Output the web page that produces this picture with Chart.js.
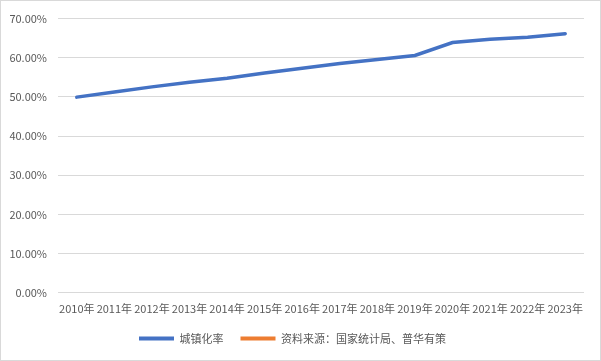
<!DOCTYPE html>
<html>
<head>
<meta charset="utf-8">
<script src="https://cdn.jsdelivr.net/npm/chart.js@4"></script>
<style>
  html, body { margin: 0; padding: 0; background: #fff; }
  #wrap { width: 599px; height: 359px; border: 1px solid #d9d9d9; }
</style>
</head>
<body>
<div id="wrap"><canvas id="chart"></canvas></div>
<script>
// Years on the x axis
const years = ["2010年", "2011年", "2012年", "2013年", "2014年", "2015年", "2016年",
  "2017年", "2018年", "2019年", "2020年", "2021年", "2022年", "2023年"];

// Urbanization rate (%)
const urbanRate = [49.95, 51.27, 52.57, 53.73, 54.77, 56.10, 57.35,
  58.52, 59.58, 60.60, 63.89, 64.72, 65.22, 66.16];

// Second legend entry has no data (source note)
const sourceNote = years.map(() => null);

const seriesNames = ["城镇化率", "资料来源：国家统计局、普华有策"];

const textColor = "#595959";
const fontFamily = "'Microsoft YaHei', 'Noto Sans CJK SC', sans-serif";

const ctx = document.getElementById("chart").getContext("2d");
new Chart(ctx, {
  type: "line",
  data: {
    labels: years,
    datasets: [
      {
        label: seriesNames[0],
        data: urbanRate,
        borderColor: "#4472C4",
        backgroundColor: "#4472C4",
        borderWidth: 3.5,
        pointRadius: 0,
        borderCapStyle: "round",
        tension: 0,
      },
      {
        label: seriesNames[1],
        data: sourceNote,
        borderColor: "#ED7D31",
        backgroundColor: "#ED7D31",
        borderWidth: 3,
        pointRadius: 0,
      },
    ],
  },
  options: {
    responsive: true,
    maintainAspectRatio: false,
    animation: false,
    layout: {
      padding: { left: 0, right: 16, top: 12, bottom: 6 },
    },
    plugins: {
      tooltip: { enabled: false },
      legend: {
        position: "bottom",
        labels: {
          color: textColor,
          font: { family: fontFamily, size: 11 },
          boxWidth: 35,
          boxHeight: 4,
          padding: 17,
          useBorderRadius: true,
          borderRadius: 2,
          generateLabels: (chart) =>
            chart.data.datasets.map((ds, i) => ({
              text: ds.label,
              fillStyle: ds.borderColor,
              strokeStyle: ds.borderColor,
              lineWidth: 0,
              fontColor: textColor,
              datasetIndex: i,
              hidden: false,
            })),
        },
      },
    },
    scales: {
      x: {
        offset: true,
        grid: { display: false },
        border: { display: false },
        ticks: {
          color: textColor,
          font: { family: fontFamily, size: 11 },
          maxRotation: 0,
          autoSkip: false,
          padding: 1,
        },
      },
      y: {
        min: 0,
        max: 70,
        afterFit: (scale) => {
          scale.width = 57;
        },
        grid: { color: "#d9d9d9", drawTicks: false },
        border: { display: false },
        ticks: {
          stepSize: 10,
          color: textColor,
          font: { family: fontFamily, size: 11 },
          padding: 11,
          callback: (v) => v.toFixed(2) + "%",
        },
      },
    },
  },
});
</script>
</body>
</html>
